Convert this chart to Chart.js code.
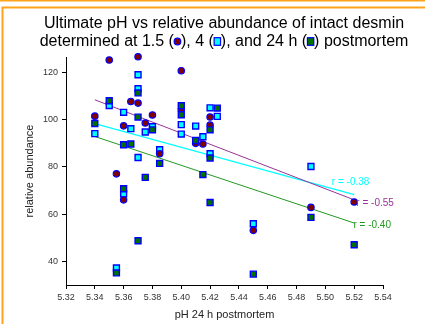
<!DOCTYPE html>
<html><head><meta charset="utf-8">
<script src="https://cdn.jsdelivr.net/npm/chart.js@4/dist/chart.umd.min.js"></script>
<style>html,body{margin:0;padding:0;background:#fff;}</style>
</head><body>
<canvas id="c" width="425" height="324"></canvas>
<script>
// ---- data ----
const xTicks = [5.32, 5.34, 5.36, 5.38, 5.40, 5.42, 5.44, 5.46, 5.48, 5.50, 5.52, 5.54];
const yTicks = [40, 60, 80, 100, 120];

const ph15 = [5.34, 5.35, 5.355, 5.36, 5.36, 5.365, 5.37, 5.37, 5.375, 5.38, 5.385, 5.40, 5.40, 5.41, 5.415, 5.42, 5.42, 5.45, 5.49, 5.52];
const abund15 = [101.4, 125.1, 77.0, 97.3, 66.0, 107.6, 126.5, 106.9, 98.5, 101.9, 85.5, 120.6, 104.1, 89.9, 89.6, 101.0, 97.6, 53.1, 62.8, 65.1];

const ph4 = [5.34, 5.35, 5.355, 5.36, 5.36, 5.365, 5.37, 5.37, 5.37, 5.375, 5.38, 5.385, 5.40, 5.40, 5.41, 5.415, 5.42, 5.42, 5.425, 5.45, 5.49];
const abund4 = [94.0, 105.9, 37.2, 103.0, 68.5, 96.1, 118.9, 113.0, 83.9, 94.7, 96.9, 87.2, 97.8, 93.8, 97.2, 92.7, 104.9, 85.5, 101.3, 55.9, 80.1];

const ph24 = [5.34, 5.35, 5.355, 5.36, 5.36, 5.365, 5.37, 5.37, 5.37, 5.375, 5.38, 5.385, 5.40, 5.40, 5.41, 5.415, 5.42, 5.42, 5.42, 5.425, 5.45, 5.49, 5.52];
const abund24 = [98.3, 107.9, 35.1, 89.3, 70.7, 89.6, 111.2, 101.0, 48.7, 75.5, 95.6, 81.4, 105.8, 102.0, 91.1, 76.7, 95.6, 83.7, 64.9, 104.8, 34.6, 58.6, 47.0];

// regression line end points [x, y]
const fit15 = [[5.34, 108.3], [5.52, 66.0]];
const fit4 = [[5.34, 98.2], [5.52, 68.2]];
const fit24 = [[5.34, 92.8], [5.52, 56.2]];
const rLabels = ['r = -0.55', 'r = -0.38', 'r = -0.40'];
const rLabelAt = [[5.5215, 64.6], [5.5045, 73.3], [5.5195, 55.4]];

// ---- styles ----
const C15 = '#800000', C4 = '#00ffff', C24 = '#007000', CB = '#0000ff';
const L15 = '#993399', L4 = '#00ffff', L24 = '#229922';
const FONT = '"Liberation Sans", Arial, sans-serif';

const pts = (xs, ys) => xs.map((x, i) => ({x: x, y: ys[i]}));
const fitPts = f => f.map(p => ({x: p[0], y: p[1]}));

const framePlugin = {
  id: 'frame',
  beforeDraw(chart) {
    const ctx = chart.ctx;
    ctx.save();
    ctx.fillStyle = '#fff';
    ctx.fillRect(0, 0, chart.width, chart.height);
    ctx.strokeStyle = '#ffa31a';
    ctx.lineWidth = 2;
    ctx.beginPath();
    ctx.moveTo(0, 0.5); ctx.lineTo(425, 0.5);
    ctx.moveTo(425, 7.5); ctx.lineTo(2.5, 7.5); ctx.lineTo(2.5, 324);
    ctx.stroke();
    ctx.restore();
  }
};

function marker(ctx, kind, cx, cy) {
  ctx.save();
  ctx.strokeStyle = CB; ctx.lineWidth = 1.2;
  if (kind === 'c') {
    ctx.fillStyle = C15;
    ctx.beginPath(); ctx.arc(cx, cy, 3.3, 0, Math.PI * 2); ctx.fill(); ctx.stroke();
  } else {
    ctx.fillStyle = kind === 's4' ? C4 : C24;
    ctx.fillRect(cx - 3.2, cy - 3.8, 6.4, 7.6);
    ctx.strokeRect(cx - 3.2, cy - 3.8, 6.4, 7.6);
  }
  ctx.restore();
}

const textPlugin = {
  id: 'texts',
  afterDraw(chart) {
    const ctx = chart.ctx;
    const xs = chart.scales.x, ys = chart.scales.y;
    ctx.save();
    // title
    ctx.fillStyle = '#000';
    ctx.font = '16px ' + FONT;
    ctx.textBaseline = 'alphabetic';
    ctx.textAlign = 'left';
    const cx = 224;
    const t1 = 'Ultimate pH vs relative abundance of intact desmin';
    ctx.fillText(t1, cx - ctx.measureText(t1).width / 2, 28);
    const parts = ['determined at 1.5 (', 'c', '), 4 (', 's4', '), and 24 h (', 's24', ') postmortem'];
    const slot = 7;
    let total = 0;
    parts.forEach((p, i) => { total += (i % 2 === 1) ? slot : ctx.measureText(p).width; });
    let x = cx - total / 2;
    parts.forEach((p, i) => {
      if (i % 2 === 1) { marker(ctx, p, x + slot / 2, 41.5); x += slot; }
      else { ctx.fillText(p, x, 46); x += ctx.measureText(p).width; }
    });
    // axis titles
    ctx.font = '11px ' + FONT;
    ctx.fillStyle = '#222';
    ctx.textAlign = 'center';
    ctx.textBaseline = 'middle';
    ctx.fillText('pH 24 h postmortem', (xs.left + xs.right) / 2, 315);
    ctx.save();
    ctx.translate(30, (ys.top + ys.bottom) / 2);
    ctx.rotate(-Math.PI / 2);
    ctx.fillText('relative abundance', 0, 0);
    ctx.restore();
    // r labels
    ctx.font = '10px ' + FONT;
    ctx.textAlign = 'left';
    const cols = [L15, L4, L24];
    rLabels.forEach((t, i) => {
      ctx.fillStyle = cols[i];
      ctx.fillText(t, xs.getPixelForValue(rLabelAt[i][0]), ys.getPixelForValue(rLabelAt[i][1]));
    });
    ctx.restore();
  }
};

new Chart(document.getElementById('c'), {
  data: {
    datasets: [
      {type: 'scatter', label: '24 h', data: pts(ph24, abund24), pointStyle: 'rect', pointRadius: 4.2, backgroundColor: C24, borderColor: CB, borderWidth: 1.4, order: 1, clip: false},
      {type: 'scatter', label: '1.5 h', data: pts(ph15, abund15), pointStyle: 'circle', pointRadius: 3.2, backgroundColor: C15, borderColor: CB, borderWidth: 1.2, order: 2, clip: false},
      {type: 'scatter', label: '4 h', data: pts(ph4, abund4), pointStyle: 'rect', pointRadius: 4.2, backgroundColor: C4, borderColor: CB, borderWidth: 1.4, order: 3, clip: false},
      {type: 'line', label: 'fit 1.5', data: fitPts(fit15), borderColor: L15, borderWidth: 1, pointRadius: 0, fill: false, order: 4},
      {type: 'line', label: 'fit 4', data: fitPts(fit4), borderColor: L4, borderWidth: 1.2, pointRadius: 0, fill: false, order: 5},
      {type: 'line', label: 'fit 24', data: fitPts(fit24), borderColor: L24, borderWidth: 1, pointRadius: 0, fill: false, order: 6}
    ]
  },
  options: {
    responsive: false,
    animation: false,
    layout: {padding: {left: 0, right: 42, top: 57, bottom: 0}},
    plugins: {legend: {display: false}, tooltip: {enabled: false}, title: {display: false}},
    scales: {
      x: {
        type: 'linear', min: 5.32, max: 5.54,
        afterBuildTicks: s => { s.ticks = xTicks.map(v => ({value: v})); },
        afterFit: s => { s.height = 39; },
        border: {display: true, color: '#000', width: 1},
        grid: {display: true, drawOnChartArea: false, drawTicks: true, tickLength: 4, color: '#000'},
        ticks: {font: {family: FONT, size: 9}, color: '#333', padding: 3, maxRotation: 0, autoSkip: false, callback: v => v.toFixed(2)}
      },
      y: {
        type: 'linear', min: 30, max: 126.4,
        afterBuildTicks: s => { s.ticks = yTicks.map(v => ({value: v})); },
        afterFit: s => { s.width = 66; },
        border: {display: true, color: '#000', width: 1},
        grid: {display: true, drawOnChartArea: false, drawTicks: true, tickLength: 4, color: '#000'},
        ticks: {font: {family: FONT, size: 9}, color: '#333', padding: 4, callback: v => String(v)}
      }
    }
  },
  plugins: [framePlugin, textPlugin]
});
</script>
</body></html>
